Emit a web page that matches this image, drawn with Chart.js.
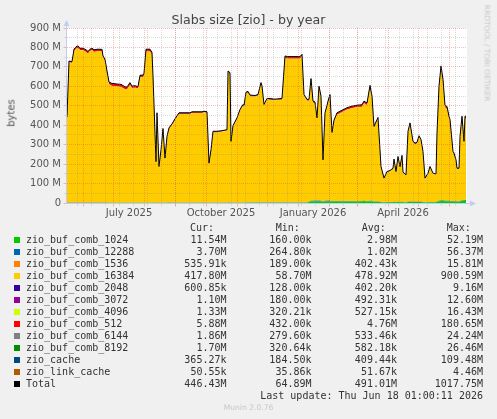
<!DOCTYPE html>
<html>
<head>
<meta charset="utf-8">
<script src="https://cdn.jsdelivr.net/npm/chart.js@4.4.0/dist/chart.umd.min.js"></script>
<style>
  body { margin: 0; background: #f0f0f0; width: 497px; height: 419px; position: relative; overflow: hidden; font-family: "DejaVu Sans", sans-serif; }
  #graph { position: absolute; left: 0; top: 0; }
  .txt { position: absolute; white-space: pre; }
  .mono { font-family: "DejaVu Sans Mono", monospace; font-size: 10px; line-height: 12px; color: #333; }
  .swatch { position: absolute; width: 6px; height: 6px; }
</style>
</head>
<body>
<canvas id="graph" width="497" height="419"></canvas>
<div class="txt" id="title" style="left:0;width:497px;top:12px;text-align:center;font-size:12.6px;line-height:15px;color:#444;">Slabs size [zio] - by year</div>
<div class="txt" style="left:11px;top:113px;font-size:10px;color:#555;transform:translate(-50%,-50%) rotate(-90deg);">bytes</div>
<div class="txt" style="left:487px;top:53px;font-size:7.5px;color:#c8c8c8;transform:translate(-50%,-50%) rotate(90deg);">RRDTOOL / TOBI OETIKER</div>
<div class="txt" style="left:0;width:497px;top:403px;text-align:center;font-size:7.6px;color:#c8c8c8;">Munin 2.0.76</div>
<div id="legend"></div>
<script>
// x = day index across the 400 px wide year graph (0 = left edge)
var days = [
  0, 2, 5, 7, 10, 12, 13, 16, 19, 21,
  23, 25, 27, 31, 35, 36, 38, 40, 42, 45,
  50, 54, 58, 60, 63, 65, 68, 71, 73, 76,
  77, 79, 83, 85, 86, 89, 90, 92, 94, 96,
  98, 100, 102, 105, 108, 112, 123, 125, 135, 137,
  140, 142, 144, 146, 150, 155, 160, 161, 163, 164,
  166, 170, 173, 176, 177, 179, 181, 183, 188, 191,
  194, 195, 197, 200, 205, 208, 215, 218, 221, 233,
  235, 237, 240, 242, 244, 246, 248, 250, 252, 254,
  256, 258, 260, 261, 263, 265, 267, 270, 275, 280,
  285, 290, 295, 297, 300, 303, 305, 307, 310, 311,
  314, 317, 320, 323, 326, 327, 329, 331, 333, 335,
  336, 339, 341, 343, 346, 348, 350, 352, 354, 356,
  358, 361, 363, 366, 369, 370, 372, 374, 376, 378,
  380, 382, 383, 386, 387, 389, 390, 392, 393, 395,
  397, 398, 399
];

// Total (M bytes)
var totalM = [
  443, 730, 727, 791, 808, 803, 796, 796, 788, 779,
  791, 796, 788, 791, 790, 756, 739, 679, 622, 615,
  612, 610, 598, 596, 619, 601, 603, 598, 657, 658,
  667, 791, 791, 774, 653, 213, 464, 188, 274, 383,
  231, 343, 386, 407, 433, 464, 464, 469, 469, 472,
  469, 205, 274, 369, 369, 372, 377, 679, 670, 317,
  398, 438, 481, 507, 502, 570, 574, 555, 553, 558,
  619, 602, 507, 538, 536, 534, 538, 756, 753, 753,
  765, 558, 533, 533, 640, 524, 519, 438, 601, 550,
  222, 464, 502, 524, 558, 363, 426, 464, 477, 490,
  498, 503, 505, 524, 514, 605, 550, 394, 429, 440,
  188, 128, 162, 167, 179, 226, 162, 239, 186, 245,
  159, 145, 369, 412, 317, 308, 312, 346, 326, 265,
  128, 153, 188, 153, 150, 360, 601, 705, 636, 502,
  496, 446, 429, 265, 257, 222, 179, 179, 343, 446,
  317, 446, 446
];

var comb1024 = [
  0.5, 0.5, 0.6, 0.6, 0.6, 0.6, 0.6, 0.6, 0.6, 0.6,
  0.6, 0.6, 0.6, 0.6, 0.6, 0.6, 0.6, 0.6, 0.7, 0.7,
  0.7, 0.7, 0.7, 0.7, 0.7, 0.7, 0.7, 0.7, 0.8, 0.8,
  0.8, 0.8, 0.8, 0.8, 0.8, 0.6, 0.8, 0.6, 0.7, 0.9,
  0.8, 0.9, 1.5, 1.0, 1.0, 1.0, 1.0, 1.0, 1.0, 1.0,
  1.0, 0.7, 0.8, 1.0, 1.0, 1.0, 1.0, 1.2, 1.2, 0.9,
  1.0, 1.0, 1.1, 1.1, 1.1, 1.2, 1.2, 1.2, 1.2, 1.2,
  1.3, 1.3, 1.2, 1.2, 1.2, 1.2, 1.2, 1.5, 1.5, 1.5,
  1.5, 1.3, 1.3, 5.0, 9.0, 8.0, 8.0, 7.0, 8.0, 8.0,
  5.0, 8.0, 8.0, 9.0, 9.0, 7.0, 8.0, 8.0, 7.0, 7.0,
  7.0, 8.0, 9.0, 10.0, 8.0, 9.0, 8.0, 6.0, 6.0, 6.0,
  4.0, 3.0, 4.0, 4.0, 4.0, 5.0, 4.0, 5.0, 4.0, 5.0,
  4.0, 3.0, 5.0, 6.0, 5.0, 5.0, 5.0, 5.0, 5.0, 4.0,
  3.0, 4.0, 4.0, 4.0, 4.0, 6.0, 9.0, 10.0, 10.0, 9.0,
  9.0, 9.0, 8.0, 7.0, 7.0, 7.0, 6.0, 6.0, 8.0, 10.0,
  10.0, 11.5, 11.5
];

var comb12288 = [
  0.6, 0.6, 0.6, 0.7, 0.7, 0.7, 0.7, 0.7, 0.7, 0.7,
  0.7, 0.7, 0.7, 0.7, 0.7, 0.7, 0.7, 0.7, 0.7, 0.7,
  0.7, 0.7, 0.7, 0.7, 0.7, 0.7, 0.7, 0.7, 0.7, 0.7,
  0.7, 0.7, 0.7, 0.7, 0.7, 0.6, 0.7, 0.6, 0.6, 0.7,
  0.6, 0.7, 0.8, 0.7, 0.7, 0.7, 0.7, 0.7, 0.7, 0.7,
  0.7, 0.6, 0.6, 0.7, 0.7, 0.7, 0.7, 0.8, 0.8, 0.7,
  0.7, 0.7, 0.8, 0.8, 0.8, 0.8, 0.8, 0.8, 0.8, 0.8,
  0.8, 0.8, 0.8, 0.8, 0.8, 0.8, 0.8, 0.9, 0.9, 0.9,
  0.9, 0.9, 0.9, 1.5, 2.0, 3.0, 4.5, 4.0, 4.5, 3.0,
  2.0, 3.0, 4.0, 3.5, 3.0, 2.0, 2.0, 2.0, 1.5, 1.5,
  1.5, 1.5, 1.5, 1.5, 1.5, 2.0, 2.0, 1.5, 1.5, 1.5,
  1.2, 1.0, 1.2, 1.2, 1.2, 1.2, 1.2, 1.2, 1.2, 1.2,
  1.2, 1.0, 1.5, 2.0, 1.5, 1.5, 1.5, 1.5, 1.5, 1.2,
  1.0, 1.2, 1.2, 1.2, 1.2, 1.5, 2.5, 3.0, 3.0, 2.5,
  2.5, 2.5, 2.0, 2.0, 2.0, 2.0, 2.0, 2.0, 2.5, 3.0,
  3.5, 3.7, 3.7
];

var comb1536 = [
  0.4, 0.4, 0.4, 0.4, 0.4, 0.4, 0.4, 0.4, 0.4, 0.4,
  0.4, 0.4, 0.4, 0.4, 0.4, 0.4, 0.4, 0.4, 0.4, 0.4,
  0.4, 0.4, 0.4, 0.4, 0.4, 0.4, 0.4, 0.4, 0.4, 0.4,
  0.4, 0.4, 0.4, 0.4, 0.4, 0.3, 0.4, 0.3, 0.3, 0.4,
  0.3, 0.4, 0.4, 0.4, 0.4, 0.4, 0.4, 0.4, 0.4, 0.4,
  0.4, 0.3, 0.3, 0.4, 0.4, 0.4, 0.4, 0.4, 0.4, 0.4,
  0.4, 0.4, 0.4, 0.4, 0.4, 0.4, 0.4, 0.4, 0.4, 0.4,
  0.4, 0.4, 0.4, 0.4, 0.4, 0.4, 0.4, 0.4, 0.4, 0.4,
  0.4, 0.4, 0.4, 0.4, 0.4, 0.4, 0.4, 0.4, 0.4, 0.4,
  0.3, 0.4, 0.4, 0.4, 0.4, 0.4, 0.4, 0.4, 0.4, 0.4,
  0.4, 0.4, 0.4, 0.4, 0.4, 0.5, 0.4, 0.4, 0.4, 0.4,
  0.3, 0.3, 0.3, 0.3, 0.3, 0.3, 0.3, 0.3, 0.3, 0.3,
  0.3, 0.3, 0.4, 0.4, 0.4, 0.4, 0.4, 0.4, 0.4, 0.3,
  0.3, 0.3, 0.3, 0.3, 0.3, 0.4, 0.5, 0.5, 0.5, 0.5,
  0.5, 0.5, 0.5, 0.4, 0.4, 0.4, 0.4, 0.4, 0.5, 0.5,
  0.5, 0.5, 0.5
];

var comb2048 = [
  0.4, 0.4, 0.4, 0.4, 0.4, 0.4, 0.4, 0.4, 0.4, 0.4,
  0.4, 0.4, 0.4, 0.4, 0.4, 0.4, 0.4, 0.4, 0.4, 0.4,
  0.4, 0.4, 0.4, 0.4, 0.4, 0.4, 0.4, 0.4, 0.4, 0.4,
  0.4, 0.4, 0.4, 0.4, 0.4, 0.3, 0.4, 0.3, 0.3, 0.4,
  0.3, 0.4, 0.4, 0.4, 0.4, 0.4, 0.4, 0.4, 0.4, 0.4,
  0.4, 0.3, 0.3, 0.4, 0.4, 0.4, 0.4, 0.4, 0.4, 0.4,
  0.4, 0.4, 0.4, 0.4, 0.4, 0.4, 0.4, 0.4, 0.4, 0.4,
  0.4, 0.4, 0.4, 0.4, 0.4, 0.4, 0.4, 0.4, 0.4, 0.4,
  0.4, 0.4, 0.4, 0.4, 0.4, 0.4, 0.4, 0.4, 0.4, 0.4,
  0.3, 0.4, 0.4, 0.4, 0.4, 0.4, 0.4, 0.4, 0.4, 0.4,
  0.4, 0.4, 0.4, 0.4, 0.4, 0.5, 0.4, 0.4, 0.4, 0.4,
  0.3, 0.3, 0.3, 0.3, 0.3, 0.3, 0.3, 0.3, 0.3, 0.3,
  0.3, 0.3, 0.4, 0.4, 0.4, 0.4, 0.4, 0.4, 0.4, 0.3,
  0.3, 0.3, 0.3, 0.3, 0.3, 0.4, 0.5, 0.6, 0.5, 0.5,
  0.5, 0.5, 0.5, 0.4, 0.4, 0.4, 0.4, 0.4, 0.5, 0.6,
  0.6, 0.6, 0.6
];

var comb3072 = [
  0.5, 0.5, 0.5, 0.5, 0.5, 0.5, 0.5, 0.5, 0.5, 0.5,
  0.5, 0.5, 0.5, 0.5, 0.5, 0.5, 0.5, 0.5, 0.5, 0.5,
  0.5, 0.5, 0.5, 0.5, 0.5, 0.5, 0.5, 0.5, 0.5, 0.5,
  0.5, 0.5, 0.5, 0.5, 0.5, 0.4, 0.5, 0.4, 0.4, 0.5,
  0.4, 0.5, 0.5, 0.5, 0.5, 0.5, 0.5, 0.5, 0.5, 0.5,
  0.5, 0.4, 0.4, 0.5, 0.5, 0.5, 0.5, 0.6, 0.6, 0.5,
  0.5, 0.5, 0.5, 0.5, 0.5, 0.5, 0.5, 0.5, 0.5, 0.5,
  0.5, 0.5, 0.5, 0.5, 0.5, 0.5, 0.5, 0.6, 0.6, 0.6,
  0.6, 0.5, 0.5, 0.5, 0.5, 0.5, 0.5, 0.5, 0.5, 0.5,
  0.4, 0.5, 0.5, 0.5, 0.5, 0.5, 0.5, 0.5, 0.5, 0.5,
  0.5, 0.5, 0.5, 0.5, 0.5, 0.6, 0.5, 0.4, 0.4, 0.4,
  0.3, 0.3, 0.3, 0.3, 0.3, 0.3, 0.3, 0.3, 0.3, 0.3,
  0.3, 0.3, 0.4, 0.4, 0.4, 0.4, 0.4, 0.4, 0.4, 0.3,
  0.3, 0.3, 0.3, 0.3, 0.3, 0.5, 0.8, 1.0, 0.9, 0.8,
  0.8, 0.7, 0.7, 0.5, 0.5, 0.5, 0.4, 0.4, 0.8, 1.0,
  0.9, 1.1, 1.1
];

var comb4096 = [
  0.5, 0.5, 0.5, 0.5, 0.5, 0.5, 0.5, 0.5, 0.5, 0.5,
  0.5, 0.5, 0.5, 0.5, 0.5, 0.5, 0.5, 0.5, 0.5, 0.5,
  0.5, 0.5, 0.5, 0.5, 0.5, 0.5, 0.5, 0.5, 0.5, 0.5,
  0.5, 0.5, 0.5, 0.5, 0.5, 0.4, 0.5, 0.4, 0.4, 0.5,
  0.4, 0.5, 0.5, 0.5, 0.5, 0.5, 0.5, 0.5, 0.5, 0.5,
  0.5, 0.4, 0.4, 0.5, 0.5, 0.5, 0.5, 0.6, 0.6, 0.5,
  0.5, 0.5, 0.5, 0.5, 0.5, 0.6, 0.6, 0.6, 0.6, 0.6,
  0.6, 0.6, 0.5, 0.5, 0.5, 0.5, 0.5, 0.6, 0.6, 0.6,
  0.6, 0.5, 0.5, 0.5, 0.5, 0.5, 0.5, 0.5, 0.5, 0.5,
  0.4, 0.5, 0.5, 0.5, 0.5, 0.5, 0.5, 0.5, 0.5, 0.5,
  0.5, 0.5, 0.5, 0.5, 0.5, 0.6, 0.5, 0.4, 0.4, 0.4,
  0.4, 0.4, 0.4, 0.4, 0.4, 0.4, 0.4, 0.4, 0.4, 0.4,
  0.4, 0.4, 0.5, 0.5, 0.4, 0.4, 0.4, 0.4, 0.4, 0.4,
  0.4, 0.4, 0.4, 0.4, 0.4, 0.6, 1.0, 1.2, 1.1, 0.9,
  0.9, 0.8, 0.8, 0.6, 0.6, 0.5, 0.5, 0.5, 0.9, 1.2,
  1.1, 1.3, 1.3
];

var comb512 = [
  2, 3, 4, 8, 8, 8, 8, 8, 8, 8,
  8, 8, 8, 8, 8, 6, 5, 6, 9, 10,
  10, 10, 10, 9, 9, 8, 8, 8, 9, 9,
  9, 9, 9, 8, 6, 2, 3, 2, 2, 3,
  2, 3, 3, 3, 3, 3, 3, 3, 3, 3,
  3, 2, 2, 3, 3, 3, 3, 4, 4, 3,
  3, 3, 4, 4, 4, 4, 4, 4, 4, 4,
  4, 4, 3, 3, 3, 3, 4, 8, 8, 8,
  8, 5, 4, 4, 4, 4, 4, 3, 4, 4,
  2, 4, 5, 5, 6, 4, 5, 7, 8, 8,
  8, 8, 8, 8, 8, 12, 10, 5, 5, 5,
  3, 2, 3, 3, 3, 3, 3, 3, 3, 3,
  3, 2, 3, 4, 3, 3, 3, 3, 3, 3,
  2, 2, 3, 2, 2, 4, 8, 10, 12, 8,
  6, 6, 5, 3, 3, 3, 3, 3, 4, 6,
  5, 6, 6
];

var comb6144 = [
  0.5, 0.5, 0.5, 0.5, 0.5, 0.5, 0.5, 0.5, 0.5, 0.5,
  0.5, 0.5, 0.5, 0.5, 0.5, 0.5, 0.5, 0.5, 0.5, 0.5,
  0.5, 0.5, 0.5, 0.5, 0.5, 0.5, 0.5, 0.5, 0.5, 0.5,
  0.5, 0.5, 0.5, 0.5, 0.5, 0.4, 0.5, 0.4, 0.4, 0.5,
  0.4, 0.5, 0.5, 0.5, 0.5, 0.5, 0.5, 0.5, 0.5, 0.5,
  0.5, 0.4, 0.4, 0.5, 0.5, 0.5, 0.5, 0.6, 0.6, 0.5,
  0.5, 0.5, 0.5, 0.5, 0.5, 0.6, 0.6, 0.6, 0.6, 0.6,
  0.6, 0.6, 0.5, 0.5, 0.5, 0.5, 0.5, 0.6, 0.6, 0.6,
  0.6, 0.5, 0.5, 0.5, 0.5, 0.5, 0.5, 0.5, 0.5, 0.5,
  0.4, 0.5, 0.5, 0.5, 0.5, 0.5, 0.5, 0.5, 0.5, 0.5,
  0.5, 0.5, 0.5, 0.5, 0.5, 0.6, 0.5, 0.4, 0.4, 0.4,
  0.4, 0.4, 0.4, 0.4, 0.4, 0.4, 0.4, 0.4, 0.4, 0.4,
  0.4, 0.4, 0.5, 0.5, 0.4, 0.4, 0.4, 0.4, 0.4, 0.4,
  0.4, 0.4, 0.4, 0.4, 0.4, 0.6, 1.2, 1.5, 1.4, 1.1,
  1.0, 0.9, 0.9, 0.6, 0.6, 0.5, 0.5, 0.5, 1.2, 1.6,
  1.4, 1.9, 1.9
];

var comb8192 = [
  0.6, 0.6, 0.6, 0.6, 0.6, 0.6, 0.6, 0.6, 0.6, 0.6,
  0.6, 0.6, 0.6, 0.6, 0.6, 0.6, 0.6, 0.6, 0.6, 0.6,
  0.6, 0.6, 0.6, 0.6, 0.6, 0.6, 0.6, 0.6, 0.6, 0.6,
  0.6, 0.6, 0.6, 0.6, 0.6, 0.5, 0.6, 0.5, 0.5, 0.6,
  0.5, 0.6, 0.6, 0.6, 0.6, 0.6, 0.6, 0.6, 0.6, 0.6,
  0.6, 0.5, 0.5, 0.6, 0.6, 0.6, 0.6, 0.7, 0.7, 0.6,
  0.6, 0.6, 0.6, 0.6, 0.6, 0.6, 0.6, 0.6, 0.6, 0.6,
  0.6, 0.6, 0.6, 0.6, 0.6, 0.6, 0.6, 0.7, 0.7, 0.7,
  0.7, 0.6, 0.6, 0.6, 0.6, 0.6, 0.6, 0.6, 0.6, 0.6,
  0.5, 0.6, 0.6, 0.6, 0.6, 0.6, 0.6, 0.6, 0.6, 0.6,
  0.6, 0.6, 0.6, 0.6, 0.6, 0.7, 0.6, 0.5, 0.5, 0.5,
  0.4, 0.4, 0.4, 0.4, 0.4, 0.4, 0.4, 0.4, 0.4, 0.4,
  0.4, 0.4, 0.5, 0.5, 0.5, 0.5, 0.5, 0.5, 0.5, 0.4,
  0.4, 0.4, 0.4, 0.4, 0.4, 0.6, 1.2, 1.5, 1.4, 1.1,
  1.0, 0.9, 0.9, 0.6, 0.6, 0.5, 0.5, 0.5, 1.1, 1.5,
  1.3, 1.7, 1.7
];

var zioCache = [
  0.4, 0.4, 0.4, 0.4, 0.4, 0.4, 0.4, 0.4, 0.4, 0.4,
  0.4, 0.4, 0.4, 0.4, 0.4, 0.4, 0.4, 0.4, 0.4, 0.4,
  0.4, 0.4, 0.4, 0.4, 0.4, 0.4, 0.4, 0.4, 0.4, 0.4,
  0.4, 0.4, 0.4, 0.4, 0.4, 0.3, 0.4, 0.3, 0.3, 0.4,
  0.3, 0.4, 1.0, 0.4, 0.4, 0.4, 0.4, 0.4, 0.4, 0.4,
  0.4, 0.3, 1.0, 0.4, 0.4, 0.4, 0.4, 0.4, 0.4, 0.4,
  0.4, 0.4, 0.4, 0.4, 0.4, 0.4, 0.4, 0.4, 0.4, 0.4,
  0.4, 0.4, 0.4, 0.4, 0.4, 0.4, 0.4, 0.4, 0.4, 0.4,
  0.4, 0.4, 0.4, 0.4, 0.5, 0.8, 1.5, 1.2, 1.0, 0.6,
  0.4, 0.5, 0.6, 0.5, 0.4, 0.4, 0.4, 0.4, 0.4, 0.4,
  0.4, 0.4, 0.4, 0.4, 0.4, 0.5, 0.4, 0.4, 0.4, 0.4,
  0.3, 0.3, 0.3, 0.3, 0.3, 0.3, 0.3, 0.3, 0.3, 0.3,
  0.3, 0.3, 0.4, 0.4, 0.4, 0.4, 0.4, 0.4, 0.4, 0.3,
  0.3, 0.3, 0.3, 0.3, 0.3, 0.4, 0.6, 0.8, 0.6, 0.4,
  0.4, 0.4, 0.4, 0.4, 0.4, 0.4, 0.4, 0.4, 0.4, 0.4,
  0.4, 0.4, 0.4
];

var zioLinkCache = [
  0.05, 0.05, 0.05, 0.05, 0.05, 0.05, 0.05, 0.05, 0.05, 0.05,
  0.05, 0.05, 0.05, 0.05, 0.05, 0.05, 0.05, 0.05, 0.05, 0.05,
  0.05, 0.05, 0.05, 0.05, 0.05, 0.05, 0.05, 0.05, 0.05, 0.05,
  0.05, 0.05, 0.05, 0.05, 0.05, 0.05, 0.05, 0.05, 0.05, 0.05,
  0.05, 0.05, 0.05, 0.05, 0.05, 0.05, 0.05, 0.05, 0.05, 0.05,
  0.05, 0.05, 0.05, 0.05, 0.05, 0.05, 0.05, 0.05, 0.05, 0.05,
  0.05, 0.05, 0.05, 0.05, 0.05, 0.05, 0.05, 0.05, 0.05, 0.05,
  0.05, 0.05, 0.05, 0.05, 0.05, 0.05, 0.05, 0.05, 0.05, 0.05,
  0.05, 0.05, 0.05, 0.05, 0.05, 0.05, 0.05, 0.05, 0.05, 0.05,
  0.05, 0.05, 0.05, 0.05, 0.05, 0.05, 0.05, 0.05, 0.05, 0.05,
  0.05, 0.05, 0.05, 0.05, 0.05, 0.05, 0.05, 0.05, 0.05, 0.05,
  0.05, 0.05, 0.05, 0.05, 0.05, 0.05, 0.05, 0.05, 0.05, 0.05,
  0.05, 0.05, 0.05, 0.05, 0.05, 0.05, 0.05, 0.05, 0.05, 0.05,
  0.05, 0.05, 0.05, 0.05, 0.05, 0.05, 0.05, 0.05, 0.05, 0.05,
  0.05, 0.05, 0.05, 0.05, 0.05, 0.05, 0.05, 0.05, 0.05, 0.05,
  0.05, 0.05, 0.05
];

// legend / table texts
var seriesNames = [
  "zio_buf_comb_1024", "zio_buf_comb_12288", "zio_buf_comb_1536", "zio_buf_comb_16384",
  "zio_buf_comb_2048", "zio_buf_comb_3072", "zio_buf_comb_4096", "zio_buf_comb_512",
  "zio_buf_comb_6144", "zio_buf_comb_8192", "zio_cache", "zio_link_cache", "Total"
];
var seriesColors = [
  "#00CC00", "#0066B3", "#FF8000", "#FFCC00", "#330099", "#990099",
  "#CCFF00", "#FF0000", "#808080", "#008F00", "#00487D", "#B35A00", "#000000"
];
var curText = ["11.54M", "3.70M", "535.91k", "417.80M", "600.85k", "1.10M", "1.33M", "5.88M", "1.86M", "1.70M", "365.27k", "50.55k", "446.43M"];
var minText = ["160.00k", "264.80k", "189.00k", "58.70M", "128.00k", "180.00k", "320.21k", "432.00k", "279.60k", "320.64k", "184.50k", "35.86k", "64.89M"];
var avgText = ["2.98M", "1.02M", "402.43k", "478.92M", "402.20k", "492.31k", "527.15k", "4.76M", "533.46k", "582.18k", "409.44k", "51.67k", "491.01M"];
var maxText = ["52.19M", "56.37M", "15.81M", "900.59M", "9.16M", "12.60M", "16.43M", "180.65M", "24.24M", "26.46M", "109.48M", "4.46M", "1017.75M"];

// axis
var yTicksM = [0, 100, 200, 300, 400, 500, 600, 700, 800, 900];
var monthLabels = ["July 2025", "October 2025", "January 2026", "April 2026"];
var monthLabelDays = [62, 154, 246, 336];
var monthStartDays = [16.5, 46.5, 77.5, 108.5, 139.5, 170.5, 200.5, 231.5, 262.5, 290.5, 321.5, 351.5, 382.5];
var weekGridDays = [10.5, 24.5, 38.5, 52.5, 66.5, 80.5, 94.5, 108.5, 122.5, 136.5, 150.5, 164.5, 178.5, 192.5,
  206.5, 220.5, 234.5, 248.5, 262.5, 276.5, 290.5, 304.5, 318.5, 332.5, 346.5, 360.5, 374.5, 388.5];

// ---------- legend table (html text) ----------
var legendBox = document.getElementById("legend");

function addText(text, left, y, extra) {
  var d = document.createElement("div");
  d.className = "txt mono";
  d.textContent = text;
  d.style.left = left + "px";
  d.style.top = y + "px";
  if (extra) d.style.cssText += extra;
  legendBox.appendChild(d);
  return d;
}

function addRight(text, right, y) {
  return addText(text, right - 300, y, "width:300px;text-align:right;");
}

var baseTop = 233.5;
addText("Cur:", 190, baseTop - 12);
addText("Min:", 275.7, baseTop - 12);
addText("Avg:", 361.7, baseTop - 12);
addText("Max:", 446.7, baseTop - 12);

for (var i = 0; i < seriesNames.length; i++) {
  var rowTop = baseTop + 12 * i;
  var sw = document.createElement("div");
  sw.className = "swatch";
  sw.style.left = "14px";
  sw.style.top = (rowTop + 3.5) + "px";
  sw.style.background = seriesColors[i];
  legendBox.appendChild(sw);
  addText(seriesNames[i], 26, rowTop);
  addRight(curText[i], 226.5, rowTop);
  addRight(minText[i], 311.5, rowTop);
  addRight(avgText[i], 397, rowTop);
  addRight(maxText[i], 483, rowTop);
}
addRight("Last update: Thu Jun 18 01:00:11 2026", 483, baseTop + 12 * 13);

// ---------- chart ----------
var slabSeries = [comb1024, comb12288, comb1536, null, comb2048, comb3072, comb4096,
  comb512, comb6144, comb8192, zioCache, zioLinkCache];

// zio_buf_comb_16384 is what is left of the total once the others are stacked
var comb16384 = totalM.map(function (t, i) {
  var rest = 0;
  slabSeries.forEach(function (s) { if (s) rest += s[i]; });
  return t - rest;
});
slabSeries[3] = comb16384;

function toPoints(arr) {
  return days.map(function (d, i) { return { x: d, y: arr[i] }; });
}

var datasets = [{
  label: "Total",
  data: toPoints(totalM),
  stack: "total",
  borderColor: "#000000",
  borderWidth: 1,
  fill: false,
  pointRadius: 0,
  tension: 0,
}];

slabSeries.forEach(function (s, k) {
  datasets.push({
    label: seriesNames[k],
    data: toPoints(s),
    stack: "slabs",
    backgroundColor: seriesColors[k],
    borderColor: "rgba(0,0,0,0)",
    borderWidth: 0,
    fill: k === 0 ? "origin" : "-1",
    pointRadius: 0,
    tension: 0,
  });
});

var AXIS_COLOR = "#c4ccf2";
var MINOR_GRID = "rgba(140,140,140,0.32)";
var MAJOR_GRID = "rgba(230,70,70,0.36)";

var muninGrid = {
  id: "muninGrid",
  beforeDraw(chart) {
    var a = chart.chartArea;
    var ctx = chart.ctx;
    ctx.save();
    ctx.fillStyle = "#ffffff";
    ctx.fillRect(a.left, a.top, a.right - a.left, a.bottom - a.top);
    ctx.restore();
  },
  afterDatasetsDraw(chart) {
    var ctx = chart.ctx;
    var a = chart.chartArea;
    var x = chart.scales.x;
    var y = chart.scales.y;
    ctx.save();
    ctx.lineWidth = 1;

    function vx(v) { return Math.floor(x.getPixelForValue(v)) + 0.5; }
    function hy(v) { return Math.floor(y.getPixelForValue(v)) + 0.5; }

    // dotted grid
    ctx.setLineDash([1, 1]);
    ctx.strokeStyle = MINOR_GRID;
    weekGridDays.forEach(function (d) {
      var px = vx(d);
      ctx.beginPath(); ctx.moveTo(px, a.top); ctx.lineTo(px, a.bottom); ctx.stroke();
    });
    for (var m = 50; m < 900; m += 100) {
      var py = hy(m);
      ctx.beginPath(); ctx.moveTo(a.left, py); ctx.lineTo(a.right, py); ctx.stroke();
    }
    ctx.strokeStyle = MAJOR_GRID;
    monthStartDays.forEach(function (d) {
      var px = vx(d);
      ctx.beginPath(); ctx.moveTo(px, a.top); ctx.lineTo(px, a.bottom); ctx.stroke();
    });
    yTicksM.forEach(function (v) {
      if (v === 0) return;
      var py = hy(v);
      ctx.beginPath(); ctx.moveTo(a.left, py); ctx.lineTo(a.right, py); ctx.stroke();
    });

    // small tick marks outside the plot
    ctx.setLineDash([]);
    var bottom = Math.floor(a.bottom) + 0.5;
    var left = Math.floor(a.left) - 0.5;
    ctx.strokeStyle = MINOR_GRID;
    weekGridDays.forEach(function (d) {
      var px = vx(d);
      ctx.beginPath(); ctx.moveTo(px, bottom); ctx.lineTo(px, bottom + 2); ctx.stroke();
    });
    for (var m2 = 50; m2 < 900; m2 += 100) {
      var py2 = hy(m2);
      ctx.beginPath(); ctx.moveTo(left, py2); ctx.lineTo(left - 2, py2); ctx.stroke();
    }
    ctx.strokeStyle = MAJOR_GRID;
    monthStartDays.forEach(function (d) {
      var px = vx(d);
      ctx.beginPath(); ctx.moveTo(px, bottom); ctx.lineTo(px, bottom + 3); ctx.stroke();
    });
    yTicksM.forEach(function (v) {
      var py = hy(v);
      ctx.beginPath(); ctx.moveTo(left, py); ctx.lineTo(left - 3, py); ctx.stroke();
    });

    // axes with arrows
    ctx.strokeStyle = AXIS_COLOR;
    ctx.fillStyle = AXIS_COLOR;
    ctx.beginPath(); ctx.moveTo(left, bottom); ctx.lineTo(left, a.top - 2); ctx.stroke();
    ctx.beginPath(); ctx.moveTo(left, bottom); ctx.lineTo(a.right + 3, bottom); ctx.stroke();
    ctx.beginPath();
    ctx.moveTo(left, a.top - 8); ctx.lineTo(left - 3, a.top - 2); ctx.lineTo(left + 3, a.top - 2);
    ctx.closePath(); ctx.fill();
    ctx.beginPath();
    ctx.moveTo(a.right + 9, bottom); ctx.lineTo(a.right + 3, bottom - 3); ctx.lineTo(a.right + 3, bottom + 3);
    ctx.closePath(); ctx.fill();
    ctx.restore();
  },
};

Chart.defaults.font.family = "'DejaVu Sans', sans-serif";
Chart.defaults.font.size = 10;
Chart.defaults.color = "#555555";

new Chart(document.getElementById("graph"), {
  type: "line",
  data: { datasets: datasets },
  options: {
    responsive: false,
    animation: false,
    devicePixelRatio: 1,
    layout: { padding: { left: 0, top: 28, right: 30, bottom: 0 } },
    plugins: {
      legend: { display: false },
      tooltip: { enabled: false },
      title: { display: false },
    },
    scales: {
      x: {
        type: "linear",
        min: 0,
        max: 400,
        grid: { display: false, drawTicks: false },
        border: { display: false },
        afterFit: function (scale) { scale.height = 216; },
        afterBuildTicks: function (scale) {
          scale.ticks = monthLabelDays.map(function (d) { return { value: d }; });
        },
        ticks: {
          autoSkip: false,
          maxRotation: 0,
          padding: 4,
          color: "#555555",
          callback: function (value) {
            var k = monthLabelDays.indexOf(value);
            return k >= 0 ? monthLabels[k] : "";
          },
        },
      },
      y: {
        stacked: true,
        min: 0,
        max: 900,
        grid: { display: false, drawTicks: false },
        border: { display: false },
        afterFit: function (scale) { scale.width = 67; },
        afterBuildTicks: function (scale) {
          scale.ticks = yTicksM.map(function (v) { return { value: v }; });
        },
        ticks: {
          padding: 6,
          color: "#555555",
          callback: function (value) { return value === 0 ? "0" : value + " M"; },
        },
      },
    },
  },
  plugins: [muninGrid],
});
</script>
</body>
</html>
